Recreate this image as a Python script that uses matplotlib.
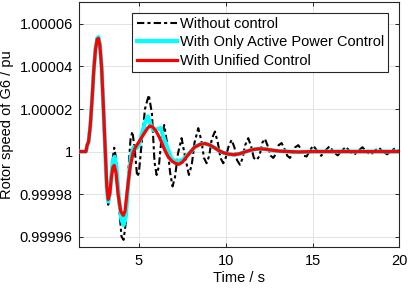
import matplotlib
matplotlib.use("Agg")
import matplotlib.pyplot as plt

# time axis (s) and rotor speed (pu)
black_t = [1.55, 1.95, 2.02, 2.1, 2.2, 2.3, 2.4, 2.5, 2.6, 2.67, 2.75, 2.85, 2.95,
           3.05, 3.15, 3.23, 3.32, 3.45, 3.58, 3.7, 3.85, 4.0, 4.12, 4.25, 4.4,
           4.52, 4.63, 4.77, 4.9, 5.0, 5.15, 5.35, 5.57, 5.75, 5.9, 6.02, 6.15,
           6.3, 6.46, 6.62, 6.8, 6.94, 7.08, 7.25, 7.46, 7.65, 7.88, 8.05, 8.2,
           8.42, 8.6, 8.75, 8.9, 9.05, 9.2, 9.38, 9.55, 9.7, 9.86, 10.0, 10.15,
           10.34, 10.5, 10.65, 10.82, 10.98, 11.12, 11.3, 11.48, 11.62, 11.78,
           11.95, 12.1, 12.26, 12.45, 12.6, 12.74, 12.9, 13.05, 13.22, 13.4,
           13.55, 13.7, 13.85, 14.0, 14.18, 14.35, 14.5, 14.66, 14.85, 15.04,
           15.25, 15.5, 15.75, 15.98, 16.2, 16.45, 16.7, 16.93, 17.15, 17.4,
           17.65, 17.88, 18.1, 18.35, 18.6, 18.83, 19.05, 19.3, 19.55, 19.78, 20.0]
black_v = [1.0, 1.0, 1.0000030, 1.0000045, 1.0000120, 1.0000240, 1.0000380,
           1.0000480, 1.0000528, 1.0000532, 1.0000500, 1.0000400, 1.0000220,
           1.0000020, 0.9999820, 0.9999750, 0.9999790, 0.9999940, 1.0000018,
           0.9999960, 0.9999750, 0.9999600, 0.9999585, 0.9999670, 0.9999920,
           1.0000060, 1.0000094, 1.0000000, 0.9999883, 0.9999900, 1.0000030,
           1.0000200, 1.0000266, 1.0000180, 0.9999950, 0.9999890, 0.9999930,
           1.0000060, 1.0000125, 1.0000040, 0.9999900, 0.9999836, 0.9999880,
           0.9999990, 1.0000063, 0.9999980, 0.9999890, 0.9999940, 1.0000040,
           1.0000110, 1.0000050, 0.9999970, 0.9999945, 0.9999980, 1.0000060,
           1.0000094, 1.0000040, 0.9999970, 0.9999945, 0.9999970, 1.0000020,
           1.0000055, 1.0000020, 0.9999960, 0.9999938, 0.9999970, 1.0000030,
           1.0000063, 1.0000020, 0.9999970, 0.9999960, 0.9999980, 1.0000040,
           1.0000060, 1.0000020, 0.9999980, 0.9999970, 0.9999990, 1.0000030,
           1.0000040, 1.0000010, 0.9999980, 0.9999970, 0.9999990, 1.0000020,
           1.0000030, 1.0000010, 0.9999980, 0.9999977, 1.0000005, 1.0000028,
           1.0000005, 0.9999980, 1.0000005, 1.0000025, 1.0000000, 0.9999982,
           1.0000005, 1.0000022, 1.0000000, 0.9999985, 1.0000005, 1.0000020,
           1.0000000, 0.9999985, 1.0000005, 1.0000018, 1.0000000, 0.9999987,
           1.0000005, 1.0000016, 1.0000000]

cyan_t = [1.55, 1.95, 2.02, 2.1, 2.2, 2.3, 2.4, 2.5, 2.6, 2.67, 2.75, 2.85, 2.95,
          3.05, 3.15, 3.23, 3.32, 3.42, 3.5, 3.6, 3.7, 3.85, 4.0, 4.12, 4.25,
          4.4, 4.55, 4.7, 4.85, 5.0, 5.2, 5.35, 5.52, 5.7, 5.85, 6.05, 6.25,
          6.45, 6.65, 6.85, 7.05, 7.25, 7.5, 7.7, 7.94, 8.2, 8.5, 8.8, 9.1,
          9.35, 9.6, 9.85, 10.15, 10.5, 10.82, 11.1, 11.4, 11.7, 11.97, 12.3,
          12.7, 13.1, 13.6, 14.2, 15.0, 16.0, 17.0, 18.0, 19.0, 20.0]
cyan_v = [1.0, 1.0, 1.0000030, 1.0000045, 1.0000120, 1.0000240, 1.0000380,
          1.0000480, 1.0000532, 1.0000538, 1.0000505, 1.0000400, 1.0000220,
          1.0000020, 0.9999830, 0.9999765, 0.9999800, 0.9999890, 0.9999955,
          0.9999975, 0.9999930, 0.9999780, 0.9999680, 0.9999655, 0.9999700,
          0.9999870, 0.9999980, 1.0000020, 1.0000015, 1.0000030, 1.0000090,
          1.0000135, 1.0000165, 1.0000120, 1.0000100, 1.0000105, 1.0000110,
          1.0000060, 1.0000015, 0.9999970, 0.9999955, 0.9999955, 0.9999960,
          0.9999975, 0.9999995, 1.0000020, 1.0000033, 1.0000038, 1.0000030,
          1.0000018, 1.0000005, 0.9999995, 0.9999988, 0.9999985, 0.9999990,
          0.9999998, 1.0000006, 1.0000011, 1.0000013, 1.0000011, 1.0000006,
          1.0000002, 1.0, 0.9999998, 1.0, 1.0, 1.0, 1.0, 1.0, 1.0]

red_t = [1.55, 1.95, 2.02, 2.1, 2.2, 2.3, 2.4, 2.5, 2.6, 2.67, 2.75, 2.85, 2.95,
         3.05, 3.15, 3.23, 3.32, 3.42, 3.5, 3.58, 3.68, 3.8, 3.95, 4.1, 4.2,
         4.35, 4.5, 4.67, 4.8, 4.96, 5.15, 5.34, 5.5, 5.63, 5.8, 5.95, 6.1,
         6.3, 6.5, 6.69, 6.9, 7.1, 7.3, 7.5, 7.7, 7.94, 8.2, 8.5, 8.8, 9.1,
         9.35, 9.6, 9.85, 10.15, 10.5, 10.82, 11.1, 11.4, 11.7, 11.97, 12.3,
         12.7, 13.1, 13.6, 14.2, 15.0, 16.0, 17.0, 18.0, 19.0, 20.0]
red_v = [1.0, 1.0, 1.0000030, 1.0000045, 1.0000120, 1.0000240, 1.0000380,
         1.0000480, 1.0000528, 1.0000532, 1.0000500, 1.0000400, 1.0000220,
         1.0000030, 0.9999840, 0.9999775, 0.9999800, 0.9999880, 0.9999925,
         0.9999935, 0.9999900, 0.9999800, 0.9999720, 0.9999700, 0.9999720,
         0.9999830, 0.9999930, 0.9999995, 1.0000020, 1.0000040, 1.0000065,
         1.0000090, 1.0000110, 1.0000120, 1.0000115, 1.0000100, 1.0000080,
         1.0000045, 1.0000005, 0.9999975, 0.9999955, 0.9999945, 0.9999940,
         0.9999950, 0.9999970, 0.9999995, 1.0000020, 1.0000033, 1.0000038,
         1.0000030, 1.0000018, 1.0000005, 0.9999995, 0.9999988, 0.9999985,
         0.9999990, 0.9999998, 1.0000006, 1.0000011, 1.0000013, 1.0000011,
         1.0000006, 1.0000002, 1.0, 0.9999998, 1.0, 1.0, 1.0, 1.0, 1.0, 1.0]

x_ticks = [5, 10, 15, 20]
y_ticks = [0.99996, 0.99998, 1.0, 1.00002, 1.00004, 1.00006]
y_tick_labels = ["0.99996", "0.99998", "1", "1.00002", "1.00004", "1.00006"]
labels = ["Without control", "With Only Active Power Control", "With Unified Control"]

plt.rcParams["font.family"] = ["Liberation Sans", "DejaVu Sans"]
plt.rcParams["font.size"] = 10.5

fig = plt.figure(figsize=(4.08, 2.92), dpi=100)
ax = fig.add_axes([0.1936, 0.1531, 0.9787 - 0.1936, 0.9932 - 0.1531])

ax.plot(black_t, black_v, color="black", lw=1.5, linestyle=(0, (3.5, 1.5, 1.5, 1.5)),
        label=labels[0], zorder=3)
ax.plot(cyan_t, cyan_v, color="#00ffff", lw=3.0, label=labels[1], zorder=4)
ax.plot(red_t, red_v, color="#ff0000", lw=2.3, label=labels[2], zorder=5)

ax.set_xlim(1.55, 20)
ax.set_ylim(0.999955, 1.0000703)
ax.set_xticks(x_ticks)
ax.set_yticks(y_ticks)
ax.set_yticklabels(y_tick_labels)

ax.grid(True, color="#e3e3e3", lw=0.7)
ax.set_axisbelow(True)
ax.tick_params(direction="in", length=3, width=0.7, colors="#262626",
               top=True, right=True, labelcolor="black")
ax.tick_params(axis="x", pad=5)
ax.tick_params(axis="y", pad=4.5)
for s in ax.spines.values():
    s.set_color("#262626")
    s.set_linewidth(0.8)

ax.set_xlabel("Time / s", labelpad=2)
ax.set_ylabel("Rotor speed of G6 / pu", labelpad=4)

leg = ax.legend(loc="upper right", bbox_to_anchor=(0.9657, 0.9564), borderaxespad=0,
                fancybox=False, framealpha=1, edgecolor="#262626",
                handlelength=2.75, handletextpad=0.2, labelspacing=0.3,
                borderpad=0.3)
leg.get_frame().set_linewidth(0.8)

fig.savefig("out.png", dpi=100)
